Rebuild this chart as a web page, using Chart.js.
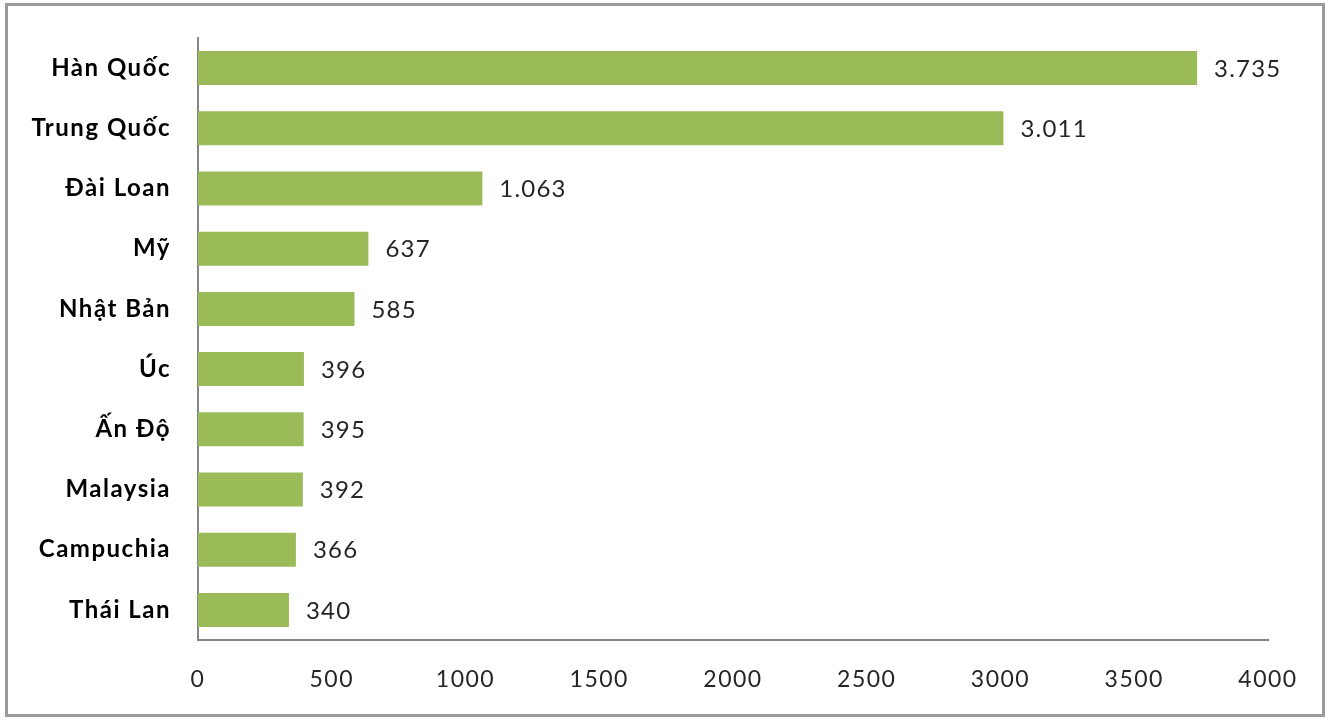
<!DOCTYPE html>
<html>
<head>
<meta charset="utf-8">
<script src="https://cdn.jsdelivr.net/npm/chart.js@4.4.1/dist/chart.umd.min.js"></script>
<style>
  html, body { margin: 0; padding: 0; background: #fff; }
  #wrap { position: relative; width: 1330px; height: 722px; }
  #frame { position: absolute; left: 5px; top: 3px; width: 1314px; height: 708px; border: 3px solid #9a9a9a; pointer-events: none; }
  canvas { position: absolute; left: 0; top: 0; }
</style>
</head>
<body>
<div id="wrap">
  <canvas id="c" width="1330" height="722"></canvas>
  <div id="frame"></div>
</div>
<script>
const categories = ["Hàn Quốc", "Trung Quốc", "Đài Loan", "Mỹ", "Nhật Bản", "Úc", "Ấn Độ", "Malaysia", "Campuchia", "Thái Lan"];
const values = [3735, 3011, 1063, 637, 585, 396, 395, 392, 366, 340];
const xTickMin = 0;
const xTickMax = 4000;
const xTickStep = 500;

const FONT = "Lato, Calibri, 'Open Sans', sans-serif";

function fmt(v) {
  return String(v).replace(/\B(?=(\d{3})+(?!\d))/g, '.');
}

const spacing = {
  id: 'spacing',
  beforeInit(chart) { chart.ctx.letterSpacing = '1.5px'; },
  beforeUpdate(chart) { chart.ctx.letterSpacing = '1.5px'; },
  beforeDraw(chart) { chart.ctx.letterSpacing = '1.5px'; }
};

const valueLabels = {
  id: 'valueLabels',
  afterDatasetsDraw(chart) {
    const ctx = chart.ctx;
    const meta = chart.getDatasetMeta(0);
    ctx.save();
    ctx.letterSpacing = '1.2px';
    ctx.font = "24px " + FONT;
    ctx.fillStyle = '#262626';
    ctx.textAlign = 'left';
    ctx.textBaseline = 'middle';
    meta.data.forEach((bar, i) => {
      ctx.fillText(fmt(values[i]), bar.x + 17, bar.y + 1);
    });
    ctx.restore();
  }
};

new Chart(document.getElementById('c'), {
  type: 'bar',
  data: {
    labels: categories,
    datasets: [{
      data: values,
      backgroundColor: '#9BBB59',
      borderWidth: 0,
      categoryPercentage: 1,
      barPercentage: 0.565
    }]
  },
  options: {
    indexAxis: 'y',
    responsive: false,
    animation: false,
    devicePixelRatio: 1,
    layout: { padding: { left: 0, right: 62, top: 38, bottom: 0 } },
    plugins: { legend: { display: false }, tooltip: { enabled: false } },
    scales: {
      y: {
        grid: { display: false },
        border: { display: true, color: '#868686', width: 2 },
        ticks: {
          color: '#000',
          padding: 19,
          font: { family: FONT, size: 24, weight: 'bold' }
        },
        afterFit(scale) { scale.width = 198; }
      },
      x: {
        min: xTickMin,
        max: xTickMax,
        grid: { display: false },
        border: { display: true, color: '#868686', width: 2 },
        ticks: {
          stepSize: xTickStep,
          color: '#262626',
          padding: 18,
          maxRotation: 0,
          font: { family: FONT, size: 23 },
          callback: (v) => String(v)
        },
        afterFit(scale) { scale.height = 82; }
      }
    }
  },
  plugins: [spacing, valueLabels]
});
</script>
</body>
</html>
